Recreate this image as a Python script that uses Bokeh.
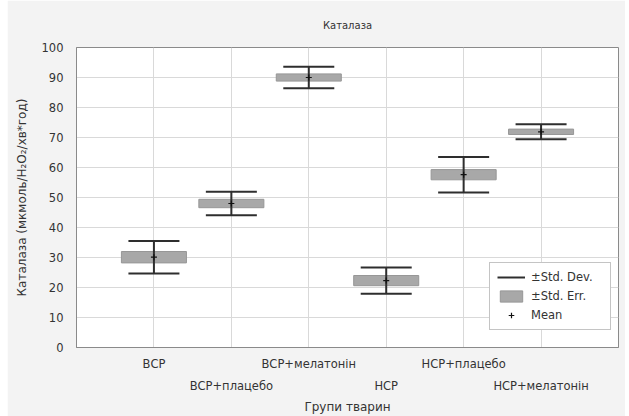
from bokeh.plotting import figure
from bokeh.models import ColumnDataSource, Legend, LegendItem, FixedTicker, Range1d
from bokeh.embed import file_html
from bokeh.resources import INLINE
import numpy as np

groups = ["ВСР", "ВСР+плацебо", "ВСР+мелатонін", "НСР", "НСР+плацебо", "НСР+мелатонін"]
means = [30.1, 48.0, 90.0, 22.3, 57.6, 71.9]
std_err = [1.9, 1.4, 1.2, 1.7, 1.7, 0.9]
std_dev = [5.4, 3.9, 3.6, 4.4, 5.9, 2.5]
y_ticks = [0, 10, 20, 30, 40, 50, 60, 70, 80, 90, 100]

FONT = "DejaVu Sans"
TXT = "#333333"

x = np.arange(1, len(groups) + 1)
m = np.array(means)
se = np.array(std_err)
sd = np.array(std_dev)
src = ColumnDataSource(dict(
    x=x, mean=m,
    se_lo=m - se, se_hi=m + se,
    sd_lo=m - sd, sd_hi=m + sd,
))

p = figure(width=618, height=416, output_backend="svg", toolbar_location=None,
           x_range=Range1d(0, len(groups) + 1), y_range=Range1d(0, 100),
           min_border_left=69, min_border_right=7, min_border_top=47, min_border_bottom=69,
           margin=(0, 4, 0, 7))
p.background_fill_color = "white"
p.border_fill_color = "#f3f3f3"
p.outline_line_color = "#8a8a8a"

p.title.text = "Каталаза"
p.title.align = "center"
p.title.text_font = FONT
p.title.text_font_size = "10px"
p.title.text_font_style = "normal"
p.title.text_color = TXT
p.title.standoff = 33

p.xaxis.ticker = FixedTicker(ticks=list(x))
p.xaxis.major_label_overrides = {int(i): (g if i % 2 == 1 else "\n" + g) for i, g in zip(x, groups)}
p.yaxis.ticker = FixedTicker(ticks=y_ticks)
for ax in (p.xaxis, p.yaxis):
    ax.major_label_text_font = FONT
    ax.major_label_text_font_size = "11.5px"
    ax.major_label_text_color = TXT
    ax.axis_label_text_font = FONT
    ax.axis_label_text_font_size = "12px"
    ax.axis_label_text_font_style = "normal"
    ax.axis_label_text_color = TXT
    ax.axis_line_color = "#8a8a8a"
    ax.major_tick_line_color = None
    ax.minor_tick_line_color = None
p.xaxis.axis_label = "Групи тварин"
p.yaxis.axis_label = "Каталаза (мкмоль/H₂O₂/хв*год)"
p.xaxis.major_label_standoff = 3
p.xaxis.major_label_text_line_height = 1.6
p.xaxis.axis_label_standoff = 4
p.yaxis.major_label_standoff = 7
p.yaxis.axis_label_standoff = 10

p.grid.grid_line_color = "#d9d9d9"
p.grid.grid_line_width = 1

r_box = p.vbar(x="x", width=0.84, bottom="se_lo", top="se_hi", source=src,
               fill_color="#a8a8a8", line_color="#979797", line_width=1)
r_vert = p.segment(x0="x", y0="sd_lo", x1="x", y1="sd_hi", source=src,
                   line_color="#2e2e2e", line_width=2)
r_cap_hi = p.scatter(x="x", y="sd_hi", source=src, marker="dash", size=51,
                     line_color="#2e2e2e", line_width=2)
r_cap_lo = p.scatter(x="x", y="sd_lo", source=src, marker="dash", size=51,
                     line_color="#2e2e2e", line_width=2)
r_mean = p.scatter(x="x", y="mean", source=src, marker="cross", size=6,
                   line_color="#111111", line_width=1.2)

legend = Legend(items=[
    LegendItem(label="±Std. Dev.", renderers=[r_vert]),
    LegendItem(label="±Std. Err.", renderers=[r_box]),
    LegendItem(label="Mean", renderers=[r_mean]),
], location=(413, 17))
legend.label_text_font = FONT
legend.label_text_font_size = "11.5px"
legend.label_text_color = TXT
legend.glyph_width = 28
legend.glyph_height = 14
legend.label_height = 14
legend.label_width = 72
legend.label_standoff = 6
legend.spacing = 5
legend.padding = 7
legend.margin = 0
legend.border_line_color = "#8a8a8a"
legend.background_fill_alpha = 1
p.add_layout(legend, "center")

open("out.html", "w").write(file_html(p, INLINE))
